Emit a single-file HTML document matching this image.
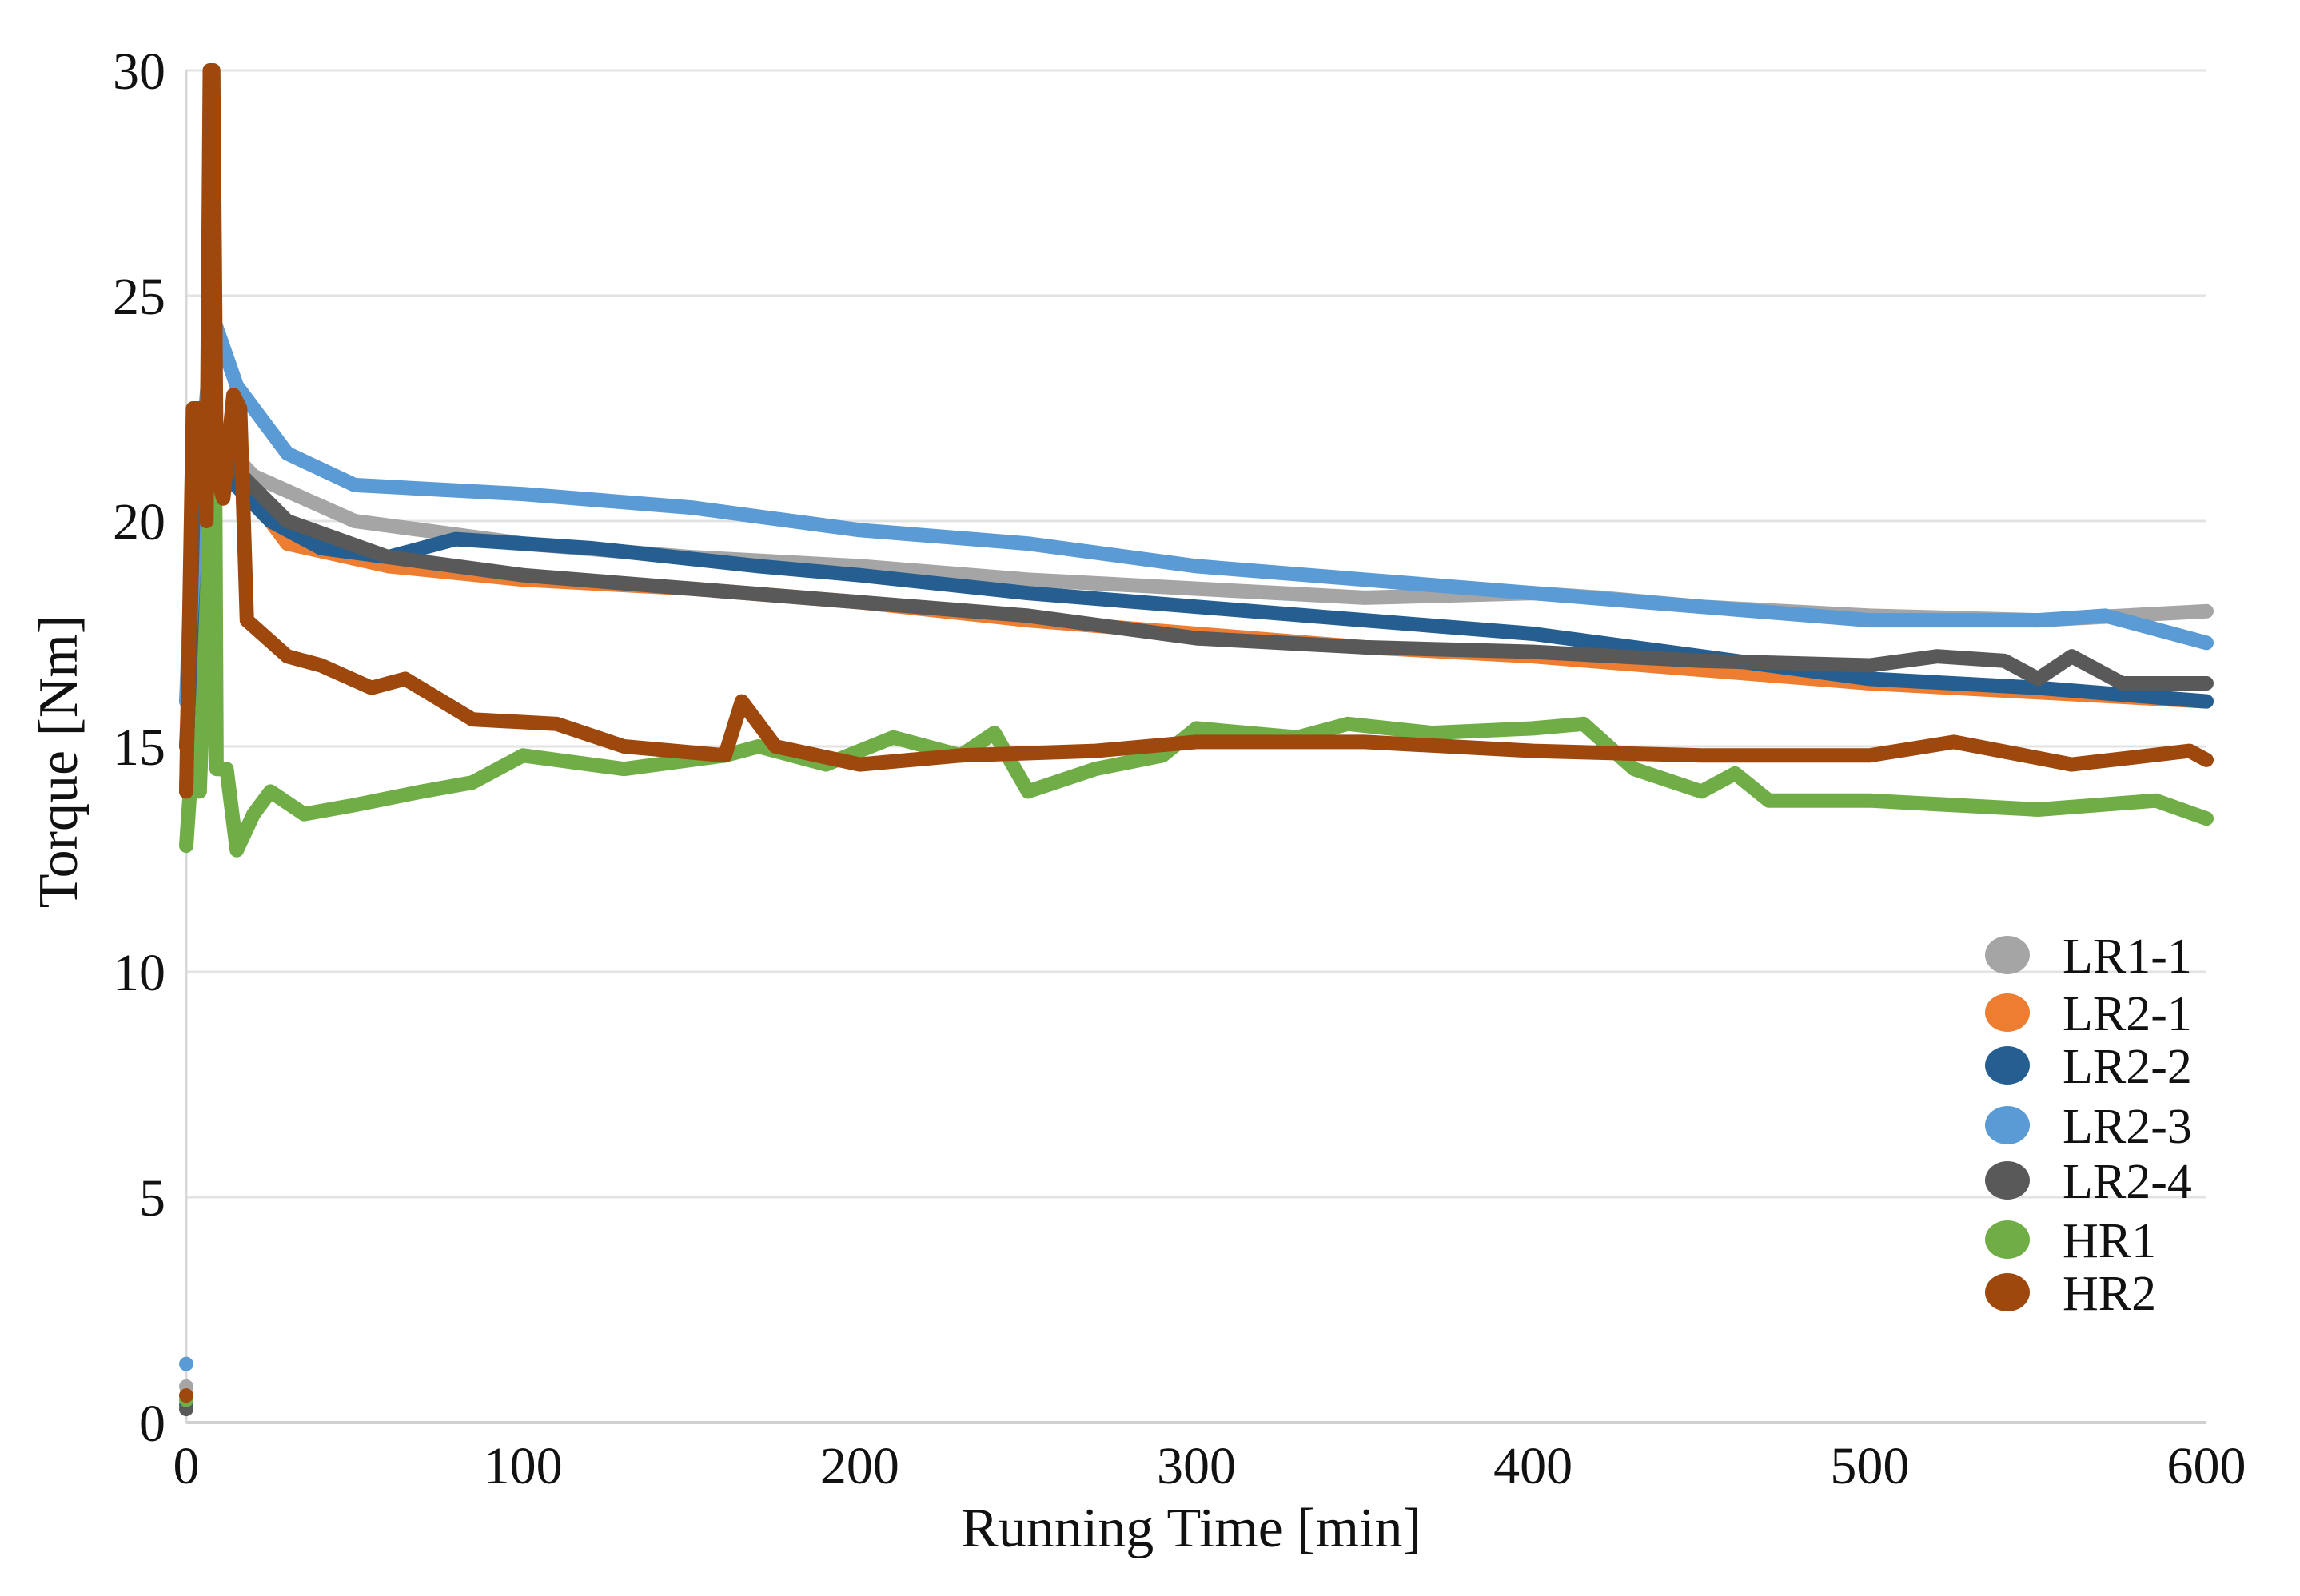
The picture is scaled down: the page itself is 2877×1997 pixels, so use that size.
<!DOCTYPE html>
<html><head><meta charset="utf-8"><style>
html,body{margin:0;padding:0;background:#fff;}
svg{display:block;}
text{font-family:"Liberation Serif",serif;fill:#111;}
</style></head><body>
<svg id="chart" width="2877" height="1997" xmlns="http://www.w3.org/2000/svg">
<g id="grid"></g>
<g id="series"></g>
<g id="axes"></g>
<text x="1490" y="1935" font-size="70" text-anchor="middle">Running Time [min]</text>
<text transform="translate(96,953) rotate(-90)" font-size="70" text-anchor="middle">Torque [Nm]</text>
<g id="legend"></g>
</svg>
<script>
const yTicks=[0,5,10,15,20,25,30];
const xTicks=[0,100,200,300,400,500,600];
const seriesNames=["LR1-1","LR2-1","LR2-2","LR2-3","LR2-4","HR1","HR2"];
const seriesColors=["#a5a5a5","#ed7d31","#255e91","#5b9bd5","#595959","#70ad47","#9e480e"];
const startVals=[0.8,0.6,0.4,1.3,0.3,0.5,0.6];
const tLR11=[0,2,5,10,20,50,100,150,200,250,300,350,400,420,450,500,550,600];
const vLR11=[16,20,22.5,21.8,21,20,19.5,19.2,19,18.7,18.5,18.3,18.4,18.3,18.1,17.9,17.8,18];
const tLR21=[0,2,5,12,20,30,60,100,150,200,250,300,350,400,450,500,550,600];
const vLR21=[15,19,22,21,20.5,19.5,19,18.7,18.5,18.2,17.8,17.5,17.2,17,16.7,16.4,16.2,16];
const tLR22=[0,3,6,12,25,40,60,80,120,170,200,250,300,350,400,450,500,550,600];
const vLR22=[15,19,21.5,21,20,19.4,19.2,19.6,19.4,19,18.8,18.4,18.1,17.8,17.5,17,16.5,16.3,16];
const tLR23=[0,3,8,15,30,50,100,150,170,200,250,300,350,400,450,500,550,570,600];
const vLR23=[16,20,24.5,23,21.5,20.8,20.6,20.3,20.1,19.8,19.5,19,18.7,18.4,18.1,17.8,17.8,17.9,17.3];
const tLR24=[0,2,5,10,30,60,100,150,200,250,300,350,400,450,500,520,540,550,560,575,600];
const vLR24=[14,20,22,21.5,20,19.2,18.8,18.5,18.2,17.9,17.4,17.2,17.1,16.9,16.8,17,16.9,16.5,17,16.4,16.4];
const tHR1=[0,2,4,7,8,9,12,15,20,25,35,50,70,85,100,130,160,170,190,210,230,240,250,270,290,300,330,345,370,400,415,430,450,460,470,500,550,585,600];
const vHR1=[12.8,15,14,20,30,14.5,14.5,12.7,13.5,14,13.5,13.7,14,14.2,14.8,14.5,14.8,15,14.6,15.2,14.8,15.3,14,14.5,14.8,15.4,15.2,15.5,15.3,15.4,15.5,14.5,14,14.4,13.8,13.8,13.6,13.8,13.4];
const tHR2=[0,2,5,6,7,8,9,11,14,16,18,30,40,55,65,85,110,130,160,165,175,200,230,270,300,350,400,450,500,525,560,595,600];
const vHR2=[14,22.5,22.5,20,30,30,21,20.5,22.8,22.5,17.8,17,16.8,16.3,16.5,15.6,15.5,15,14.8,16,15,14.6,14.8,14.9,15.1,15.1,14.9,14.8,14.8,15.1,14.6,14.9,14.7];
const allT=[tLR11,tLR21,tLR22,tLR23,tLR24,tHR1,tHR2];
const allV=[vLR11,vLR21,vLR22,vLR23,vLR24,vHR1,vHR2];

const X0=233,X1=2760,Y0=1780,Y1=88;
const sx=t=>X0+(t-0)/(600-0)*(X1-X0);
const sy=v=>Y0-(v-0)/(30-0)*(Y0-Y1);
const NS="http://www.w3.org/2000/svg";
function mk(tag,attrs,parent){const e=document.createElementNS(NS,tag);for(const k in attrs)e.setAttribute(k,attrs[k]);parent.appendChild(e);return e;}
const grid=document.getElementById('grid'),axes=document.getElementById('axes'),ser=document.getElementById('series'),leg=document.getElementById('legend');
yTicks.forEach(v=>{
  const l=mk('line',{x1:X0,x2:X1,y1:sy(v),y2:sy(v),stroke:v===0?'#d0d0d0':'#e3e3e3','stroke-width':v===0?4:3},grid);
  
  
  const t=mk('text',{x:207,y:sy(v)+23,'font-size':66,'text-anchor':'end'},axes);
  t.textContent=v;
  
  
});
const ax=mk('line',{x1:X0,x2:X0,y1:Y1,y2:Y0,stroke:'#d8d8d8','stroke-width':3},grid);


xTicks.forEach(v=>{
  const t=mk('text',{x:sx(v),y:1856,'font-size':66,'text-anchor':'middle'},axes);
  t.textContent=v;
  
  
});
allT.forEach((ts,i)=>{
  const vs=allV[i];
  const d=ts.map((t,j)=>(j?'L':'M')+sx(t).toFixed(1)+' '+sy(vs[j]).toFixed(1)).join(' ');
  const p=mk('path',{d:d,fill:'none',stroke:seriesColors[i],'stroke-width':18,'stroke-linejoin':'round','stroke-linecap':'round'},ser);
  
  
  const c=mk('circle',{cx:sx(0),cy:sy(startVals[i]),r:9,fill:seriesColors[i]},ser);
  
  
});
const legY=[1195,1267,1333,1408,1477,1551,1617];
seriesNames.forEach((n,i)=>{
  const g=mk('g',{},leg);
  
  
  mk('ellipse',{cx:2511,cy:legY[i],rx:28,ry:24,fill:seriesColors[i]},g);
  const t=mk('text',{x:2580,y:legY[i]+22,'font-size':62},g);
  t.textContent=n;
});
</script>
</body></html>
